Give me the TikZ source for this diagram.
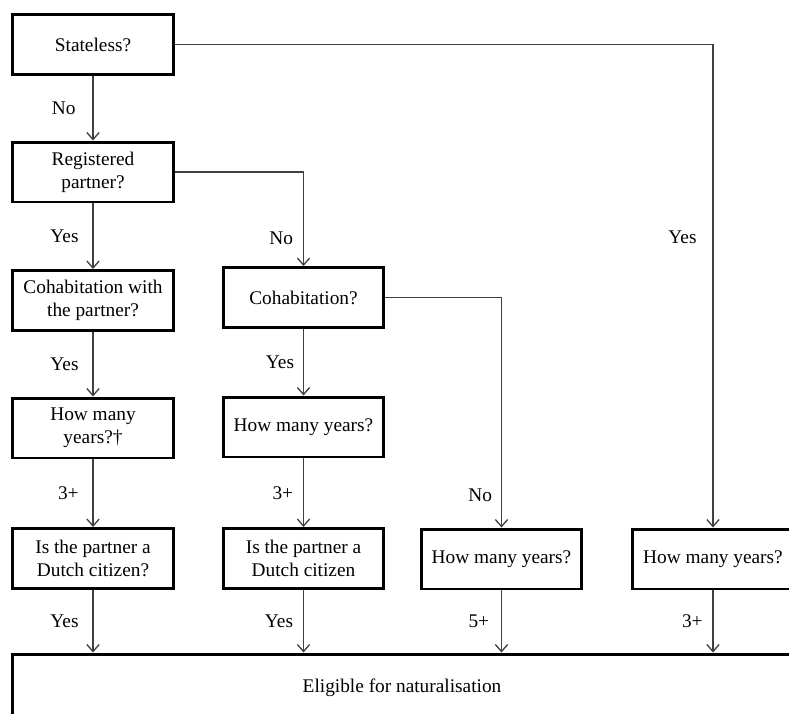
\documentclass[tikz,border=0pt]{standalone}
\usepackage{fontspec}
\setmainfont{Liberation Serif}
\usetikzlibrary{arrows.meta}

\tikzset{
	qbox/.style={draw, line width=1.7pt, minimum width=3.22cm, minimum height=1.2cm,
		align=center, font=\fontsize{11}{13.2}\selectfont},
	flow/.style={draw=black!75, line width=0.75pt, -{Straight Barb[length=4pt, width=7pt]}},
	lab/.style={inner sep=1pt, font=\fontsize{11}{13.2}\selectfont}
}

\begin{document}
\begin{tikzpicture}[x=0.02cm, y=-0.02cm]
	% Picture frame (pixels of the reference)
	\useasboundingbox (0, 0) rectangle (789, 714);
	\clip (0, 0) rectangle (789, 714);

	% Questions, column by column
	\node[qbox] (stateless) at (93, 44.5) {Stateless?};
	\node[qbox] (reg) at (93, 172) {Registered\\partner?};
	\node[qbox] (cohabp) at (93, 300.5) {Cohabitation with\\the partner?};
	\node[qbox] (years1) at (93, 428) {How many\\years?†};
	\node[qbox] (dutch1) at (93, 558.5) {Is the partner a\\Dutch citizen?};

	\node[qbox] (cohab) at (303.5, 297.5) {Cohabitation?};
	\node[qbox] (years2) at (303.5, 427) {How many years?};
	\node[qbox] (dutch2) at (303.5, 558.5) {Is the partner a\\Dutch citizen};

	\node[qbox] (years3) at (501.5, 559) {How many years?};
	\node[qbox] (years4) at (713, 559) {How many years?};

	% Outcome
	\node[qbox, minimum width=15.6cm, minimum height=1.36cm] (elig) at (402, 688)
		{Eligible for naturalisation};

	% Connectors with their answers
	\draw[flow] (stateless) -- node[lab, left=0.3cm] {No} (reg);
	\draw[flow] (reg) -- node[lab, left=0.24cm] {Yes} (cohabp);
	\draw[flow] (cohabp) -- node[lab, left=0.24cm] {Yes} (years1);
	\draw[flow] (years1) -- node[lab, left=0.24cm] {3+} (dutch1);
	\draw[flow] (dutch1) -- node[lab, left=0.24cm] {Yes} (dutch1.south |- elig.north);

	\draw[flow] (reg.east) -| node[lab, left=0.16cm, pos=0.85] {No} (cohab.north);
	\draw[flow] (cohab) -- node[lab, left=0.14cm] {Yes} (years2);
	\draw[flow] (years2) -- node[lab, left=0.16cm] {3+} (dutch2);
	\draw[flow] (dutch2) -- node[lab, left=0.16cm] {Yes} (dutch2.south |- elig.north);

	\draw[flow] (cohab.east) -| node[lab, left=0.14cm, pos=0.93] {No} (years3.north);
	\draw[flow] (years3) -- node[lab, left=0.2cm] {5+} (years3.south |- elig.north);

	\draw[flow] (stateless.east) -| node[lab, left=0.28cm, pos=0.7] {Yes} (years4.north);
	\draw[flow] (years4) -- node[lab, left=0.16cm] {3+} (years4.south |- elig.north);
\end{tikzpicture}
\end{document}
